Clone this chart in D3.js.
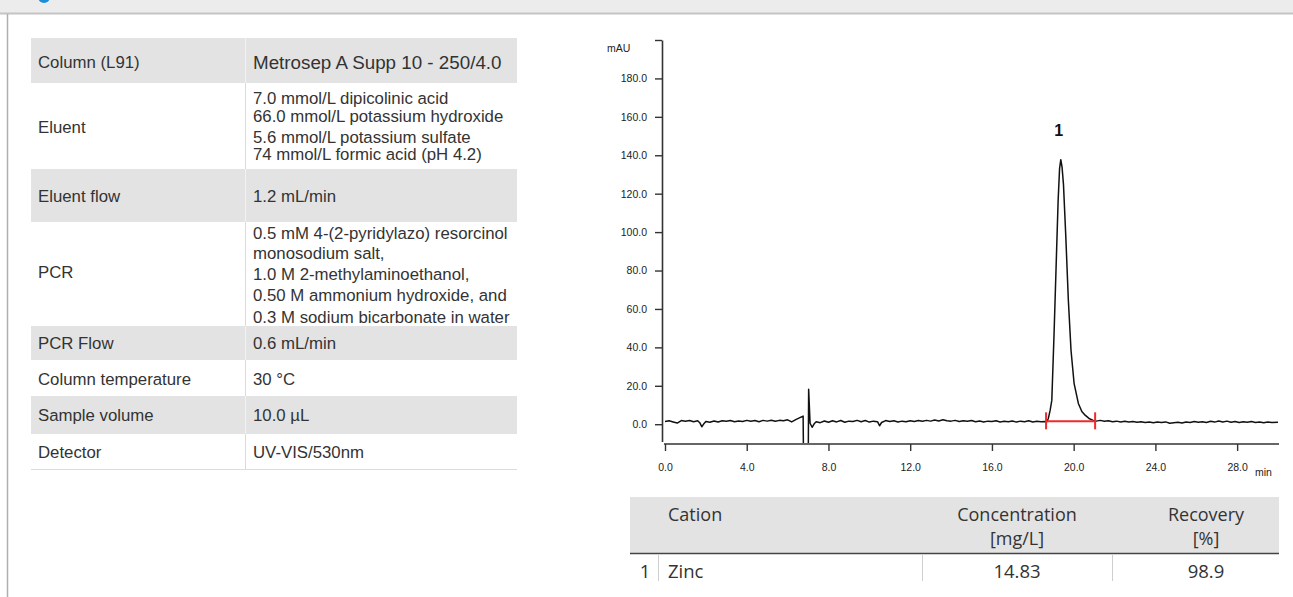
<!DOCTYPE html>
<html>
<head>
<meta charset="utf-8">
<script src="https://cdn.jsdelivr.net/npm/d3@7"></script>
<style>
  html, body { margin: 0; padding: 0; background: #fff; }
  svg { display: block; }
</style>
</head>
<body>
<svg id="fig" width="1293" height="597"></svg>
<script>
// ---- data ----
const paramLabels = ["Column (L91)", "Eluent", "Eluent flow", "PCR", "PCR Flow",
                     "Column temperature", "Sample volume", "Detector"];
const paramValues = [
    ["Metrosep A Supp 10 - 250/4.0"],
    ["7.0 mmol/L dipicolinic acid", "66.0 mmol/L potassium hydroxide",
     "5.6 mmol/L potassium sulfate", "74 mmol/L formic acid (pH 4.2)"],
    ["1.2 mL/min"],
    ["0.5 mM 4-(2-pyridylazo) resorcinol", "monosodium salt,", "1.0 M 2-methylaminoethanol,",
     "0.50 M ammonium hydroxide, and", "0.3 M sodium bicarbonate in water"],
    ["0.6 mL/min"],
    ["30 °C"],
    ["10.0 µL"],
    ["UV-VIS/530nm"]
];

const yTicks = [0, 20, 40, 60, 80, 100, 120, 140, 160, 180, 200];
const xTicks = [0, 4, 8, 12, 16, 20, 24, 28];

// chromatogram, [min, mAU]
const trace = [
    [0.0,1.4],[0.2,1.8],[0.4,1.2],[0.6,0.6],[0.8,1.9],[1.0,1.6],[1.2,1.9],[1.4,1.3],[1.6,1.8],
    [1.7,0.8],[1.8,-1.3],[1.9,0.2],[2.0,1.4],[2.2,1.0],[2.4,1.7],[2.6,1.2],[2.8,1.8],[3.0,1.5],
    [3.2,1.9],[3.4,1.3],[3.6,1.7],[3.8,1.4],[4.0,2.0],[4.2,1.5],[4.4,1.9],[4.6,1.3],[4.8,2.0],
    [5.0,1.6],[5.2,2.1],[5.4,1.5],[5.6,2.0],[5.8,1.8],[6.0,2.3],[6.2,1.2],[6.4,2.4],[6.6,3.4],
    [6.7,3.9],[6.76,4.2],[6.78,-20],[7.01,-20],[7.03,18.2],[7.1,0.5],[7.2,-1.6],[7.3,0.2],
    [7.4,1.3],[7.6,0.8],[7.8,1.7],[8.0,1.0],[8.2,1.8],[8.4,1.2],[8.6,1.9],[8.8,1.0],[9.0,1.6],
    [9.2,1.4],[9.4,2.0],[9.6,1.3],[9.8,1.9],[10.0,1.1],[10.2,1.6],[10.4,1.3],[10.5,-0.8],
    [10.6,0.9],[10.8,1.9],[11.0,1.4],[11.2,1.8],[11.4,1.2],[11.6,1.6],[11.8,1.3],[12.0,1.8],
    [12.2,1.4],[12.4,1.9],[12.6,1.5],[12.8,2.0],[13.0,1.6],[13.2,2.2],[13.4,1.7],[13.6,2.3],
    [13.8,1.8],[14.0,1.6],[14.2,2.0],[14.4,1.4],[14.6,1.8],[14.8,1.5],[15.0,1.9],[15.2,1.3],
    [15.4,1.7],[15.6,1.2],[15.8,1.6],[16.0,1.4],[16.2,1.8],[16.4,1.2],[16.6,1.5],[16.8,1.3],
    [17.0,1.7],[17.2,1.1],[17.4,1.6],[17.6,1.3],[17.8,1.8],[18.0,1.2],[18.2,1.5],[18.4,1.3],
    [18.6,1.4],[18.68,1.2],[18.76,3.0],[18.85,7.3],[18.93,12.4],[19.04,47],[19.14,81.8],
    [19.24,116.5],[19.31,133],[19.37,137.7],[19.43,134],[19.50,125],[19.61,99],[19.74,64.5],
    [19.87,38.5],[20.02,21.3],[20.23,10.8],[20.4,6.6],[20.56,4.7],[20.75,3.0],[20.96,2.0],
    [21.1,1.6],[21.3,2.0],[21.5,1.5],[21.7,1.8],[21.9,1.3],[22.1,1.6],[22.3,1.2],[22.5,1.5],
    [22.7,1.1],[22.9,1.4],[23.1,1.0],[23.3,1.3],[23.5,0.9],[23.7,1.2],[23.9,0.8],[24.1,1.1],
    [24.3,0.9],[24.5,1.2],[24.7,0.5],[24.9,0.8],[25.1,1.0],[25.3,0.6],[25.5,1.1],[25.7,0.9],
    [25.9,1.4],[26.1,1.0],[26.3,1.3],[26.5,0.9],[26.7,1.5],[26.9,1.1],[27.1,1.7],[27.3,1.2],
    [27.5,1.6],[27.7,1.0],[27.9,1.4],[28.1,0.9],[28.3,1.3],[28.5,1.0],[28.7,1.4],[28.9,0.9],
    [29.1,1.2],[29.3,0.8],[29.5,1.1],[29.7,0.9],[30.0,1.0]
];

const peakLabels = ["1"];
const peakTimes = [19.37];
const peakHeights = [137.7];
const integStart = [18.65];
const integEnd = [21.05];
const integLevel = [1.5];

const resultHeads = [["Cation"], ["Concentration", "[mg/L]"], ["Recovery", "[%]"]];
const resultNo = ["1"];
const resultCation = ["Zinc"];
const resultConc = ["14.83"];
const resultRec = ["98.9"];

// ---- page frame ----
const svg = d3.select('#fig');
svg.append('rect').attr('x', 0).attr('y', 0).attr('width', 1293).attr('height', 13)
    .attr('fill', '#ececec');
svg.append('circle').attr('cx', 44).attr('cy', -3).attr('r', 6).attr('fill', '#1a8fd8');
svg.append('line').attr('x1', 0).attr('x2', 1293).attr('y1', 13.5).attr('y2', 13.5)
    .attr('stroke', '#c4c4c4').attr('stroke-width', 2);
svg.append('line').attr('x1', 7.5).attr('x2', 7.5).attr('y1', 14).attr('y2', 597)
    .attr('stroke', '#b0b0b0').attr('stroke-width', 1.5);

// ---- parameter table ----
const tblX0 = 31, tblX1 = 517, tblDiv = 245;
const rowEdges = [38, 83, 169, 222, 326, 360, 396, 434, 469];
const lineCenters = [[62], [98, 115.7, 136.7, 154], [195.7],
                     [233, 253.5, 274, 295.5, 317], [343.3], [379], [415.5], [452.5]];
const labelCenters = [62, 126.7, 195.7, 272, 343.3, 379, 415.5, 452.5];
const tfont = 'Liberation Sans, Arial, sans-serif';

const ptable = svg.append('g');
paramLabels.forEach((lab, i) => {
    let top = rowEdges[i], bot = rowEdges[i + 1];
    let shaded = i % 2 === 0;
    ptable.append('rect')
        .attr('x', tblX0).attr('y', top).attr('width', tblX1 - tblX0).attr('height', bot - top)
        .attr('fill', shaded ? '#e3e3e3' : '#fff');
    ptable.append('line')
        .attr('x1', tblDiv + 0.5).attr('x2', tblDiv + 0.5).attr('y1', top).attr('y2', bot)
        .attr('stroke', shaded ? '#f2f2f2' : '#dadada');
    ptable.append('line')
        .attr('x1', tblX0).attr('x2', tblX1).attr('y1', bot + 0.5).attr('y2', bot + 0.5)
        .attr('stroke', '#dcdcdc');
    ptable.append('text')
        .attr('x', 38).attr('y', labelCenters[i]).attr('dy', '0.35em')
        .style('font-family', tfont).style('font-size', '16.8px').attr('fill', '#333')
        .text(lab);
    paramValues[i].forEach((v, j) => {
        ptable.append('text')
            .attr('x', 253).attr('y', lineCenters[i][j]).attr('dy', '0.35em')
            .style('font-family', tfont).style('font-size', i === 0 ? '18.8px' : '16.8px')
            .attr('fill', '#333')
            .text(v);
    });
});

// ---- chromatogram ----
const x = d3.scaleLinear().domain([0, 30]).range([665, 1278]);
const y = d3.scaleLinear().domain([-9, 200]).range([441.5, 40]);
const axFont = 'Liberation Sans, Arial, sans-serif';

svg.append('clipPath').attr('id', 'plotclip')
    .append('rect').attr('x', 664).attr('y', 40).attr('width', 615).attr('height', 403);

const chart = svg.append('g');

const yAxis = d3.axisLeft(y).tickValues(yTicks).tickSize(7).tickSizeOuter(0).tickPadding(8)
    .tickFormat(d => d === 200 ? '' : d3.format('.1f')(d));
const gy = chart.append('g').attr('transform', 'translate(662,0)').call(yAxis);
gy.select('.domain').attr('stroke', '#333').attr('stroke-width', 1.6);
gy.selectAll('.tick line').attr('stroke', '#333').attr('stroke-width', 1.4);
gy.selectAll('.tick text').style('font-family', axFont).style('font-size', '10.5px').attr('fill', '#222');

const xAxis = d3.axisBottom(x).tickValues(xTicks).tickSize(7).tickSizeOuter(0).tickPadding(13)
    .tickFormat(d3.format('.1f'));
const gx = chart.append('g').attr('transform', 'translate(0,444)').call(xAxis);
gx.select('.domain').attr('stroke', '#333').attr('stroke-width', 1.6)
    .attr('d', 'M664,0H1279');
gx.selectAll('.tick line').attr('stroke', '#333').attr('stroke-width', 1.4);
gx.selectAll('.tick text').style('font-family', axFont).style('font-size', '10.5px').attr('fill', '#222');

chart.append('text').attr('x', 607).attr('y', 52)
    .style('font-family', axFont).style('font-size', '10.5px').attr('fill', '#222').text('mAU');
chart.append('text').attr('x', 1255).attr('y', 476)
    .style('font-family', axFont).style('font-size', '10.5px').attr('fill', '#222').text('min');

const line = d3.line().x(d => x(d[0])).y(d => y(d[1]));
chart.append('path')
    .datum(trace)
    .attr('clip-path', 'url(#plotclip)')
    .attr('d', line)
    .attr('fill', 'none')
    .attr('stroke', '#111')
    .attr('stroke-width', 1.5)
    .attr('stroke-linejoin', 'round');

// integration baseline
integStart.forEach((s, i) => {
    let e = integEnd[i], lv = y(integLevel[i]);
    let g = chart.append('g').attr('stroke', '#ee2a2a').attr('stroke-width', 2);
    g.append('line').attr('x1', x(s)).attr('x2', x(e)).attr('y1', lv).attr('y2', lv);
    g.append('line').attr('x1', x(s)).attr('x2', x(s)).attr('y1', lv - 9).attr('y2', lv + 8);
    g.append('line').attr('x1', x(e)).attr('x2', x(e)).attr('y1', lv - 9).attr('y2', lv + 8);
});

peakLabels.forEach((p, i) => {
    chart.append('text')
        .attr('x', x(peakTimes[i]) - 2).attr('y', y(peakHeights[i]) - 24)
        .attr('text-anchor', 'middle')
        .style('font-family', axFont).style('font-size', '16px').style('font-weight', 'bold')
        .attr('fill', '#111')
        .text(p);
});

// ---- results table ----
const rFont = 'Open Sans, Noto Sans, sans-serif';
svg.append('clipPath').attr('id', 'resclip')
    .append('rect').attr('x', 620).attr('y', 490).attr('width', 673).attr('height', 91);
const rtab = svg.append('g').attr('clip-path', 'url(#resclip)');
const rX0 = 630, rX1 = 1279, rTop = 497, rHeadBot = 553;
const colDiv = [658, 922, 1112];
const colCenter = [null, 1017, 1206];

rtab.append('rect').attr('x', rX0).attr('y', rTop).attr('width', rX1 - rX0).attr('height', rHeadBot - rTop)
    .attr('fill', '#e3e3e3');
rtab.append('line').attr('x1', rX0).attr('x2', rX1).attr('y1', rHeadBot + 0.5).attr('y2', rHeadBot + 0.5)
    .attr('stroke', '#444').attr('stroke-width', 1.5);

resultHeads.forEach((h, i) => {
    h.forEach((t, j) => {
        rtab.append('text')
            .attr('x', i === 0 ? 668 : colCenter[i])
            .attr('y', 515 + j * 24).attr('dy', '0.35em')
            .attr('text-anchor', i === 0 ? 'start' : 'middle')
            .style('font-family', rFont).style('font-size', '18px')
            .attr('fill', '#333').text(t);
    });
});

colDiv.forEach(cx => {
    rtab.append('line').attr('x1', cx + 0.5).attr('x2', cx + 0.5).attr('y1', rHeadBot + 1).attr('y2', 597)
        .attr('stroke', '#cfcfcf');
});

resultNo.forEach((n, i) => {
    let cy = 572 + i * 30;
    let cells = [[645, n, 'middle'], [668, resultCation[i], 'start'],
                 [colCenter[1], resultConc[i], 'middle'], [colCenter[2], resultRec[i], 'middle']];
    cells.forEach(c => {
        rtab.append('text')
            .attr('x', c[0]).attr('y', cy).attr('dy', '0.35em')
            .attr('text-anchor', c[2])
            .style('font-family', rFont).style('font-size', '18.5px')
            .attr('fill', '#333').text(c[1]);
    });
});
</script>
</body>
</html>
